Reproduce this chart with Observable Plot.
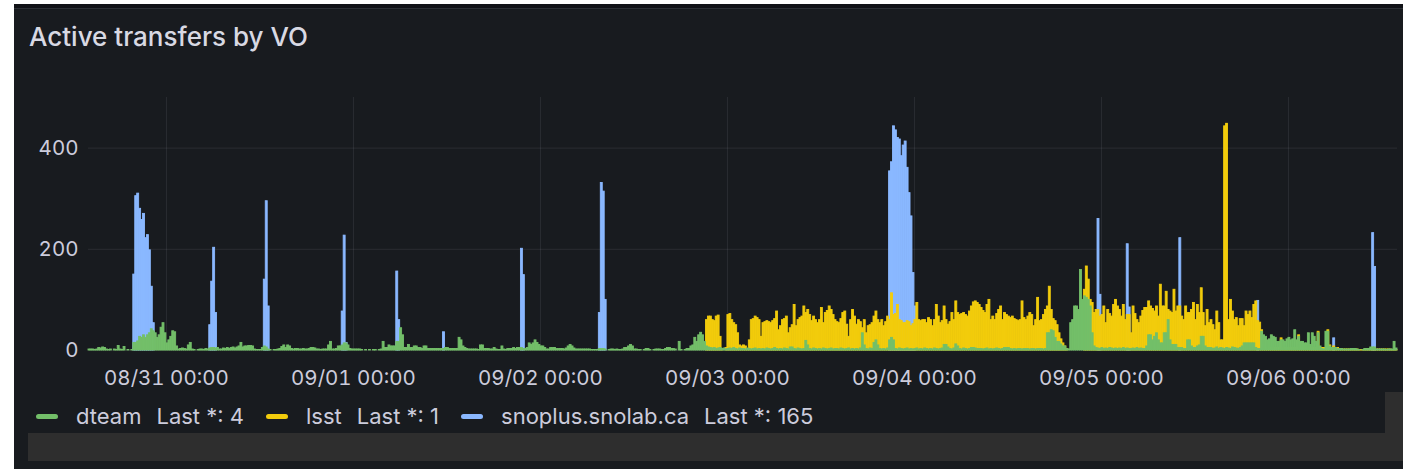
<!DOCTYPE html>
<html>
<head>
<meta charset="utf-8">
<script src="https://cdn.jsdelivr.net/npm/d3@7"></script>
<script src="https://cdn.jsdelivr.net/npm/@observablehq/plot@0.6"></script>
<style>
  html, body { margin: 0; padding: 0; background: #ffffff; }
  body { width: 1403px; height: 469px; position: relative; overflow: hidden; font-family: Inter, "Open Sans", sans-serif; }
  #frame { position: absolute; left: 14px; top: 4px; right: 0; bottom: 0; background: #111217; }
  #panel { position: absolute; left: 14px; top: 8px; right: 0; bottom: 0; background: #181b1f; border-top: 1px solid #2c3036; }
  #title { position: absolute; left: 29px; top: 21px; font-size: 26px; font-weight: 500; color: #d8d9e3; white-space: nowrap; }
  #chart { position: absolute; left: 0; top: 60px; }
  #legend { position: absolute; left: 36px; top: 403px; height: 26px; display: flex; align-items: center; font-size: 22px; color: #ccccdc; white-space: nowrap; }
  .sw { display: inline-block; width: 22px; height: 5px; border-radius: 3px; margin-right: 18px; }
  .stat { margin-left: 15px; margin-right: 22px; }
  #hbar { position: absolute; left: 28px; top: 433px; width: 1375px; height: 28px; background: #2e2e2e; }
  #vbar { position: absolute; left: 1385px; top: 392px; width: 18px; height: 41px; background: #2e2e2e; }
</style>
</head>
<body>
<div id="frame"></div>
<div id="panel"></div>
<div id="title">Active transfers by VO</div>
<div id="chart"></div>
<div id="legend"></div>
<div id="hbar"></div>
<div id="vbar"></div>
<script>
// ---- data (15-minute bins) ----
const rangeStart = "2024-08-30T14:00:00Z";
const rangeEnd = "2024-09-06T14:00:00Z";
const xTicks = ["2024-08-31T00:00:00Z", "2024-09-01T00:00:00Z", "2024-09-02T00:00:00Z", "2024-09-03T00:00:00Z", "2024-09-04T00:00:00Z", "2024-09-05T00:00:00Z", "2024-09-06T00:00:00Z"];
const yTicks = [0, 200, 400];
const seriesNames = ["dteam", "lsst", "snoplus.snolab.ca"];
const seriesColors = ["#73bf69", "#f2cc0c", "#8ab8ff"];

const dteamStart = "2024-08-30T14:00:00Z";
const dteam = [
  [2,2,2,1,2,5,4,6,5,2,1,2,0,2,1,9,2,1,7,0,1,0,1,15],
  [15,18,27,25,30,25,30,34,42,38,34,25,30,45,54,34,14,20,27,38,36,8,2,3],
  [4,3,2,10,15,2,1,0,1,2,2,1,3,2,4,5,5,4,5,2,2,4,3,5],
  [3,5,6,4,6,8,15,6,8,8,9,9,8,2,1,1,1,5,8,6,2,1,0,1],
  [1,2,3,7,10,5,10,8,3,2,3,3,2,2,3,2,2,3,5,5,4,2,2,1],
  [2,2,2,10,17,2,2,3,8,8,10,14,14,10,3,2,2,2,2,2,1,0,1,0],
  [1,0,1,1,0,1,2,17,5,5,10,8,8,8,17,17,44,30,5,5,11,5,5,8],
  [8,5,5,3,8,8,3,3,3,3,3,3,3,3,3,5,5,3,3,3,3,3,25,20],
  [8,5,3,2,2,2,2,2,1,10,10,3,3,3,2,2,5,2,1,1,8,2,1,3],
  [3,3,5,3,5,5,5,3,3,5,14,11,14,20,15,11,8,8,5,2,2,5,5,5],
  [3,3,3,3,2,4,8,11,8,4,2,2,2,2,2,2,2,2,1,1,1,1,3,3],
  [3,2,0,1,2,2,1,2,1,1,2,5,5,8,11,8,2,2,1,1,0,1,3,3],
  [1,0,1,2,2,2,1,1,3,5,5,3,3,2,0,17,1,0,1,3,3,8,10,25],
  [17,30,35,30,17,8,6,5,4,5,3,4,5,3,4,2,3,4,3,5,3,2,4,3],
  [3,2,4,3,2,3,4,2,3,2,3,2,4,3,2,3,5,3,2,3,2,4,3,2],
  [6,6,3,2,4,3,2,3,19,10,3,2,4,3,2,3,2,4,3,2,3,4,2,3],
  [3,2,4,3,2,3,4,2,3,2,3,2,4,34,10,3,2,4,3,15,20,10,3,2],
  [3,2,4,20,25,20,3,2,4,3,2,3,4,2,3,2,3,4,2,3,2,4,3,2],
  [3,2,4,3,2,3,4,11,11,6,3,2,4,12,8,3,2,4,3,2,3,5,5,4],
  [3,3,3,2,3,4,2,3,2,3,4,3,2,3,5,5,5,3,2,3,2,3,3,2],
  [3,3,3,2,3,3,2,3,3,3,2,3,34,34,40,38,25,17,17,12,8,8,3,2],
  [54,60,87,87,80,159,100,107,104,100,87,34,8,5,4,3,5,3,4,3,5,4,3,4],
  [3,4,3,5,3,4,3,3,4,3,5,3,4,3,3,8,30,30,20,27,34,20,14,14],
  [34,34,60,20,11,11,11,5,5,5,3,3,20,20,8,5,5,8,10,27,27,8,5,5],
  [5,3,4,6,3,5,4,3,5,4,3,6,5,4,3,5,8,14,14,14,14,14,14,5],
  [3,3,37,30,27,20,22,30,27,25,17,17,20,20,17,22,25,20,22,40,20,27,17,17],
  [14,14,34,11,34,27,17,34,8,3,2,37,37,8,5,5,5,3,3,3,2,2,2,2],
  [3,3,3,2,1,0,1,3,3,3,6,6,6,2,2,2,2,2,1,2,2,2,17,4]
].flat();

const lsstStart = "2024-09-02T20:00:00Z";
const lsst = [
  [0,0,0,0,0,60,67,67,60,58,67,69,27,3,0,5,70,72,60,54,50,34,10,8],
  [10,8,3,20,60,62,67,64,60,27,54,56,58,56,54,58,62,77,40,48,60,62,67,34],
  [44,50,90,48,60,64,67,87,74,80,70,58,67,60,54,60,84,54,74,78,87,80,70,60],
  [56,54,62,74,77,51,27,60,80,67,51,60,56,44,60,34,48,50,54,67,77,60,54,60],
  [48,56,67,60,113,70,72,90,60,58,54,54,58,56,48,52,60,94,60,58,60,60,54,64],
  [60,48,60,90,67,54,58,87,60,51,56,74,60,97,74,70,72,74,70,67,77,87,95,97],
  [94,90,84,78,74,90,100,60,67,60,72,80,87,60,74,70,67,64,67,62,60,58,60,97],
  [64,60,67,74,70,48,60,104,58,60,70,80,87,126,80,62,58,50,34,22,14,8,3,0],
  [0,0,0,0,0,0,0,120,166,140,100,94,74,80,80,67,70,87,54,80,72,67,90,100],
  [87,80,67,90,60,70,70,34,87,72,60,54,67,78,84,84,97,87,82,77,87,67,130,87],
  [87,116,80,77,74,120,77,87,87,67,60,87,74,74,80,94,60,90,74,123,74,48,80,54],
  [60,50,40,77,54,20,20,443,448,60,100,77,60,64,48,62,62,48,77,70,77,64,90,97],
  [58,55,40,10,5,5,5,5,5,5,5,5,24,5,5,5,5,5,5,5,5,30,5,5],
  [5,5,5,5,5,5,5,37,5,5,5,5,40,10,5,8,5,5,3,3,2,2,2,2],
  [2,2,2,2,1,1,1,2,2,2,2,2,2,2,2,2,2,2,2,2,2,1,1,1]
].flat();

// snoplus bursts: [start of first 15-min bin, values]
const snoplusBursts = [
  ["2024-08-30T19:45:00Z", [150,305,310,280,258,270,222,228,198,126,54]],
  ["2024-08-31T05:30:00Z", [50,136,203,74]],
  ["2024-08-31T12:30:00Z", [140,295,87]],
  ["2024-08-31T22:30:00Z", [77,227,15]],
  ["2024-09-01T05:30:00Z", [156,60]],
  ["2024-09-01T11:30:00Z", [36]],
  ["2024-09-01T21:30:00Z", [201,149]],
  ["2024-09-02T07:30:00Z", [74,331,314,100]],
  ["2024-09-03T20:45:00Z", [354,372,443,435,420,417,384,405,413,361,311,265,153,87]],
  ["2024-09-04T23:30:00Z", [260,110]],
  ["2024-09-05T03:15:00Z", [210,85]],
  ["2024-09-05T10:00:00Z", [222]],
  ["2024-09-05T20:00:00Z", [98]],
  ["2024-09-06T05:45:00Z", [24]],
  ["2024-09-06T10:45:00Z", [232,165]]
];

// ---- build tables ----
const STEP = 15 * 60 * 1000;
function bins(start, values) {
  const t = Date.parse(start);
  return values.map((v, i) => ({ t0: new Date(t + i * STEP), t1: new Date(t + (i + 1) * STEP), v }));
}
const dteamData = bins(dteamStart, dteam);
const lsstData = bins(lsstStart, lsst);
const snoplusData = snoplusBursts.flatMap(([s, vals]) => bins(s, vals));
const nonzero = d => d.filter(r => r.v > 0);

const barOpts = (color) => ({ x1: "t0", x2: "t1", y: "v", fill: color, stroke: color, strokeWidth: 0.9 });

const chart = Plot.plot({
  width: 1403,
  height: 330,
  marginLeft: 88,
  marginRight: 6,
  marginTop: 37,
  marginBottom: 40,
  style: { background: "transparent", color: "#ccccdc", fontSize: "20.5px", fontFamily: "Inter, 'Open Sans', sans-serif" },
  x: { type: "utc", domain: [new Date(rangeStart), new Date(rangeEnd)] },
  y: { domain: [0, 500] },
  marks: [
    Plot.gridX({ ticks: xTicks.map(d => new Date(d)), stroke: "#ccccdc", strokeOpacity: 0.1 }),
    Plot.gridY({ ticks: yTicks, stroke: "#ccccdc", strokeOpacity: 0.1 }),
    Plot.rectY(nonzero(snoplusData), barOpts(seriesColors[2])),
    Plot.rectY(nonzero(lsstData), barOpts(seriesColors[1])),
    Plot.rectY(nonzero(dteamData), barOpts(seriesColors[0])),
    Plot.axisY({ ticks: yTicks, tickSize: 0, tickPadding: 10, label: null }),
    Plot.axisX({ ticks: xTicks.map(d => new Date(d)), tickSize: 0, tickPadding: 20, label: null, tickFormat: d3.utcFormat("%m/%d %H:%M") })
  ]
});
document.getElementById("chart").appendChild(chart);

// ---- legend ----
const lastValues = [dteam[dteam.length - 1], lsst[lsst.length - 1], snoplusData[snoplusData.length - 1].v];
const legend = document.getElementById("legend");
seriesNames.forEach((name, i) => {
  const sw = document.createElement("span");
  sw.className = "sw";
  sw.style.background = seriesColors[i];
  const nm = document.createElement("span");
  nm.textContent = name;
  const st = document.createElement("span");
  st.className = "stat";
  st.textContent = "Last *: " + lastValues[i];
  legend.append(sw, nm, st);
});
</script>
</body>
</html>
